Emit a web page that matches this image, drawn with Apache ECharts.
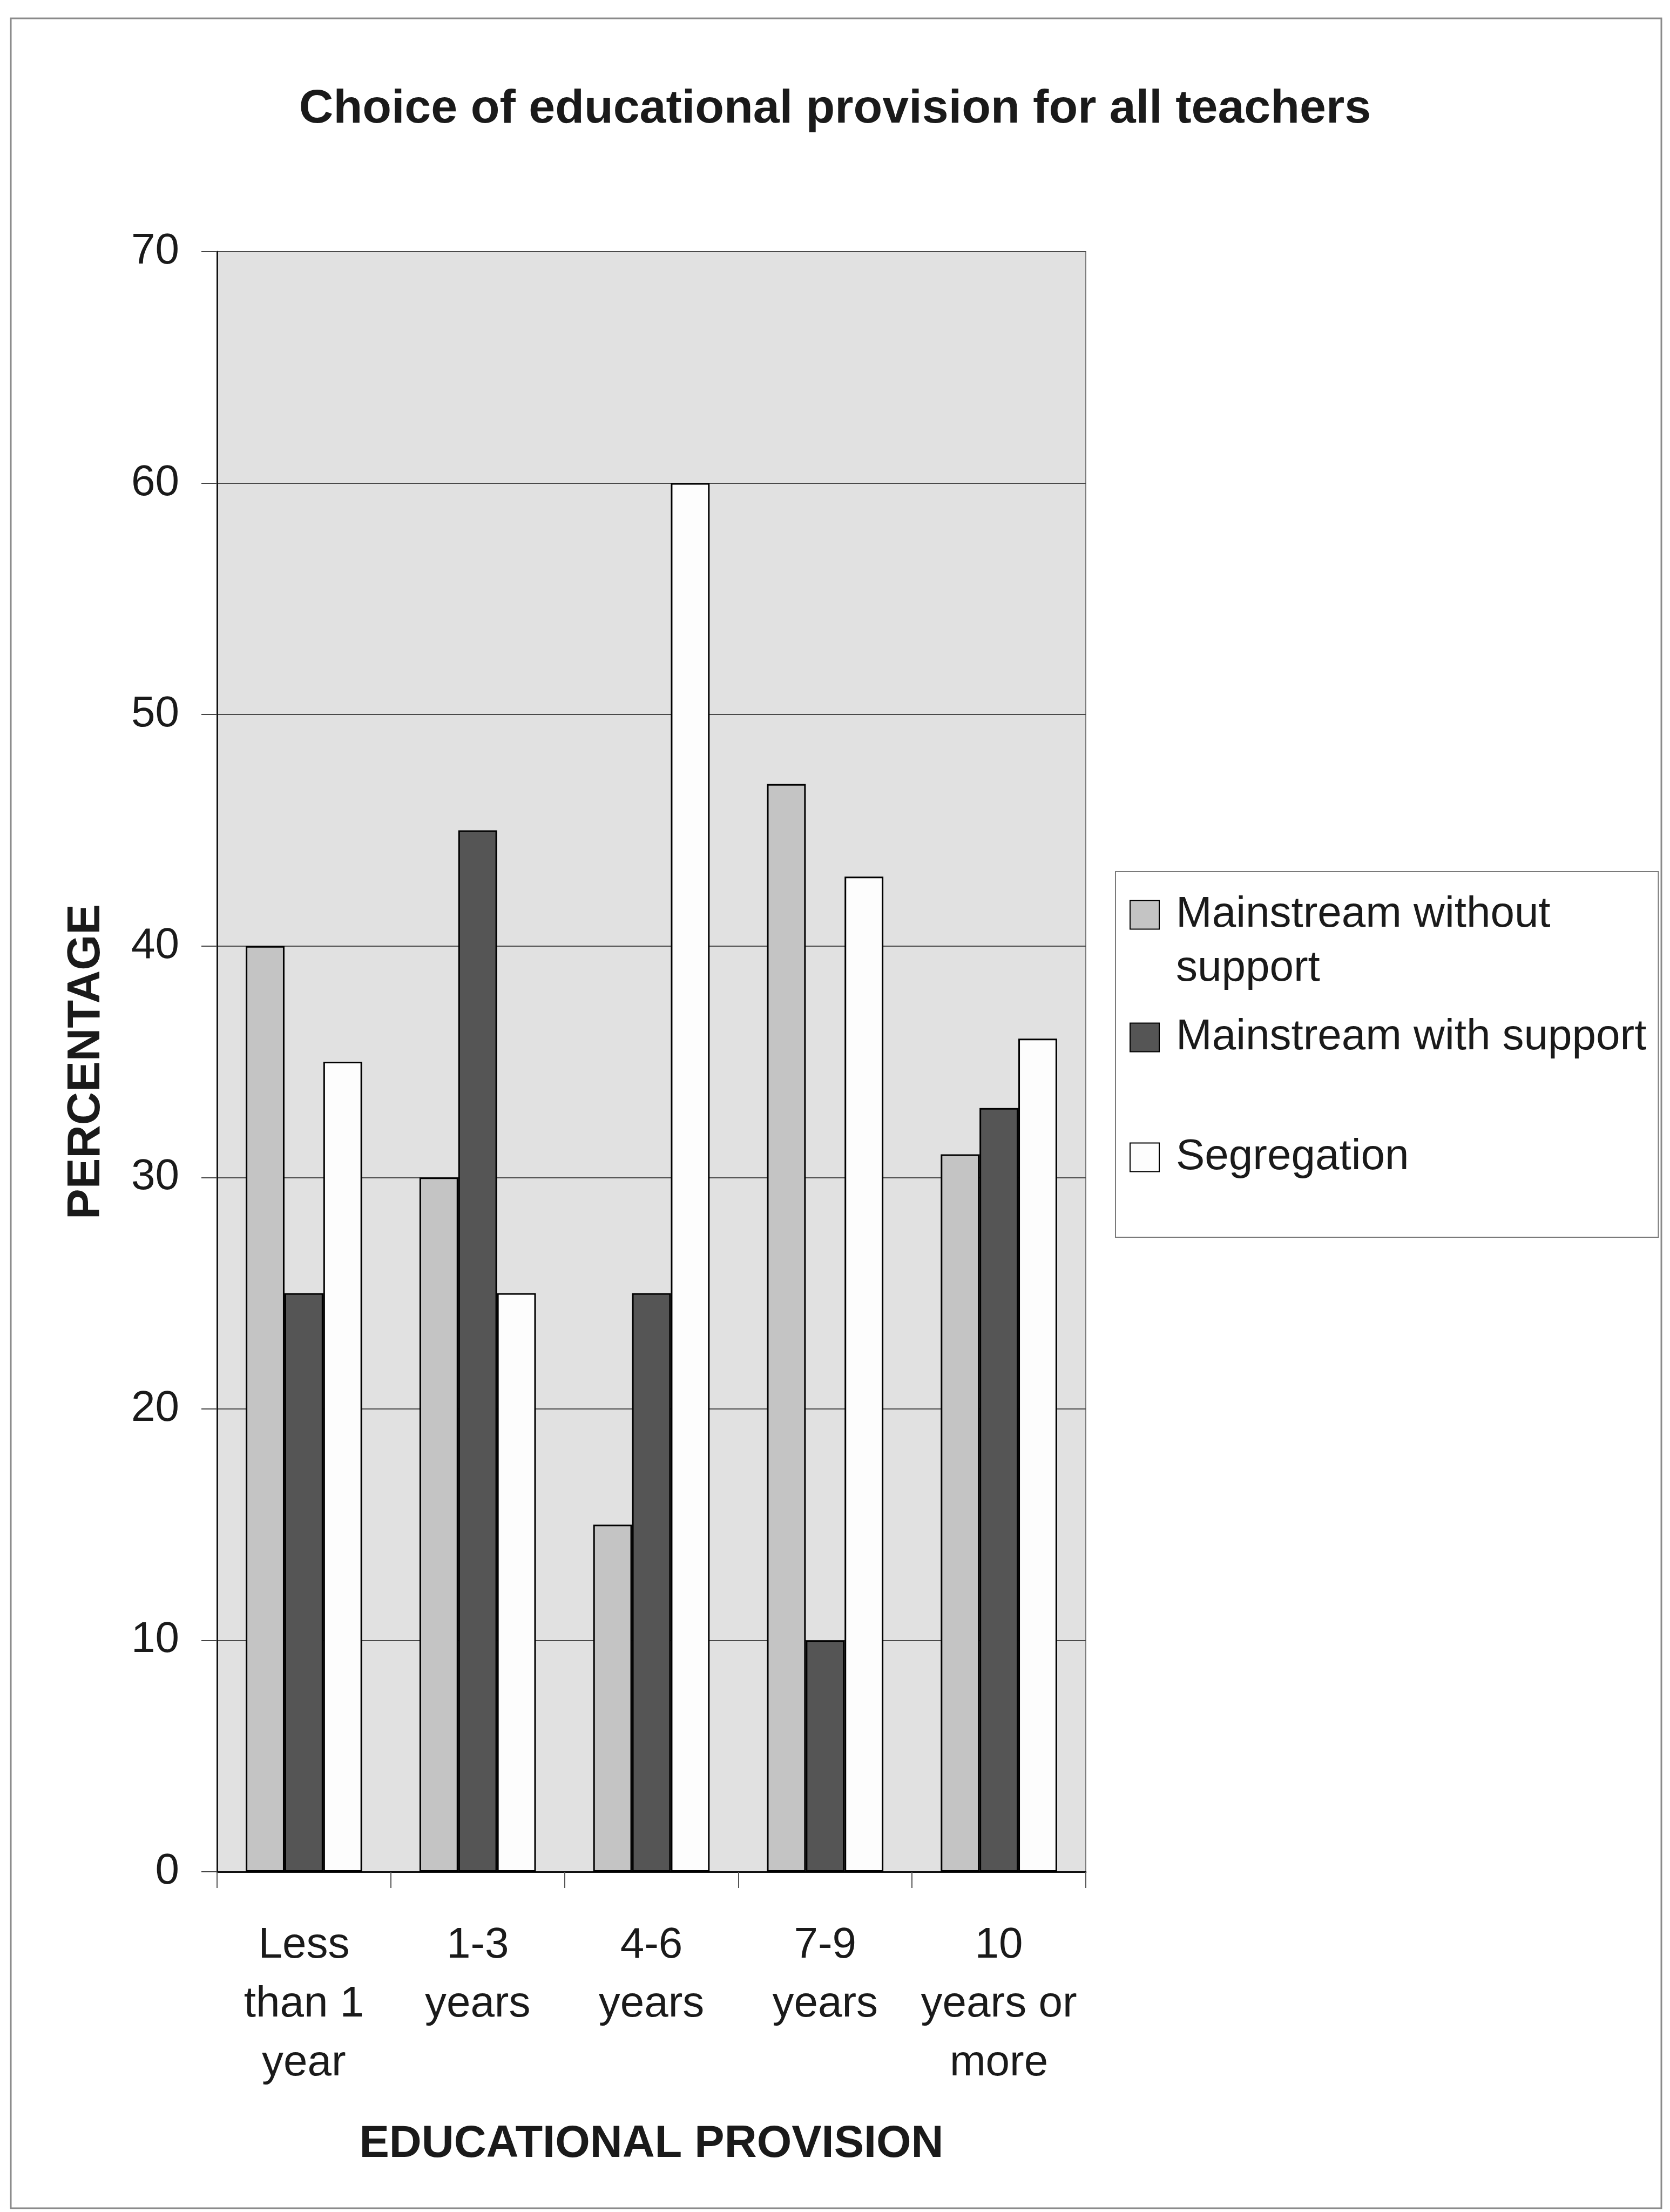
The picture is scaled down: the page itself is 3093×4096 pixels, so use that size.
<!DOCTYPE html>
<html>
<head>
<meta charset="utf-8">
<script src="https://cdn.jsdelivr.net/npm/echarts@6/dist/echarts.min.js"></script>
<style>
  html, body { margin: 0; padding: 0; background: #ffffff; }
  #chart { width: 3093px; height: 4096px; }
</style>
</head>
<body>
<div id="chart"></div>
<script>
const titleText = 'Choice of educational provision for all teachers';
const categories = ['Less\nthan 1\nyear', '1-3\nyears', '4-6\nyears', '7-9\nyears', '10\nyears or\nmore'];
const seriesNames = ['Mainstream without support', 'Mainstream with support', 'Segregation'];
const withoutSupport = [40, 30, 15, 47, 31];
const withSupport = [25, 45, 25, 10, 33];
const segregation = [35, 25, 60, 43, 36];
const yTicks = { min: 0, max: 70, interval: 10 };
const xAxisTitle = 'EDUCATIONAL PROVISION';
const yAxisTitle = 'PERCENTAGE';

const FONT = '"Liberation Sans", Arial, sans-serif';
const TEXT = '#1a1a1a';
const fills = ['#c4c4c4', '#555555', '#fdfdfd'];

const chart = echarts.init(document.getElementById('chart'), null, { renderer: 'canvas' });

function legendBase(name, top, left, extraText) {
  return {
    data: [name],
    orient: 'vertical',
    left: left,
    top: top,
    padding: 0,
    itemWidth: 54,
    itemHeight: 53,
    icon: 'rect',
    selectedMode: false,
    textStyle: Object.assign({ fontFamily: FONT, fontSize: 80, lineHeight: 100, color: TEXT }, extraText)
  };
}

// first item: a leading empty line keeps the icon level with the first text line
const legA = legendBase(seriesNames[0], 1544, 2092, { padding: [0, 0, 0, 26] });
legA.formatter = function () { return '\nMainstream without\nsupport'; };
const legB = legendBase(seriesNames[1], 1871, 2092, { padding: [0, 0, 0, 26] });
const legC = legendBase(seriesNames[2], 1614, 2066, { padding: [0, 0, 0, 26] });
legC.padding = [479, 462, 98, 26];
legC.borderColor = '#7a7a7a';
legC.borderWidth = 2;

const values = [withoutSupport, withSupport, segregation];

const option = {
  backgroundColor: '#ffffff',
  animation: false,
  title: {
    text: titleText,
    left: 'center',
    top: 154,
    textStyle: { fontFamily: FONT, fontSize: 88, fontWeight: 'bold', color: TEXT }
  },
  legend: [legA, legB, legC],
  grid: {
    left: 402,
    right: 1082,
    top: 466,
    bottom: 630,
    show: true,
    backgroundColor: '#e1e1e1',
    borderColor: '#7a7a7a',
    borderWidth: 2,
    containLabel: false
  },
  xAxis: {
    type: 'category',
    data: categories,
    name: xAxisTitle,
    nameLocation: 'middle',
    nameGap: 464,
    nameTextStyle: { fontFamily: FONT, fontSize: 83, fontWeight: 'bold', color: TEXT },
    axisLine: { show: true, lineStyle: { color: '#111', width: 3 } },
    axisTick: { show: true, length: 30, alignWithLabel: false, lineStyle: { color: '#555', width: 2 } },
    axisLabel: {
      interval: 0,
      margin: 82,
      fontFamily: FONT,
      fontSize: 80,
      lineHeight: 109,
      color: TEXT
    },
    splitLine: { show: false }
  },
  yAxis: {
    type: 'value',
    min: yTicks.min,
    max: yTicks.max,
    interval: yTicks.interval,
    name: yAxisTitle,
    nameLocation: 'middle',
    nameRotate: 90,
    nameGap: 199,
    nameTextStyle: { fontFamily: FONT, fontSize: 85, fontWeight: 'bold', color: TEXT },
    axisLine: { show: true, lineStyle: { color: '#111', width: 3 } },
    axisTick: { show: true, length: 29, lineStyle: { color: '#444', width: 2 } },
    axisLabel: { margin: 70, fontFamily: FONT, fontSize: 80, color: TEXT },
    splitLine: { show: true, lineStyle: { color: '#4a4a4a', width: 2 } }
  },
  series: seriesNames.map(function (name, i) {
    return {
      name: name,
      type: 'bar',
      data: values[i],
      barGap: '0%',
      barCategoryGap: '33%',
      itemStyle: { color: fills[i], borderColor: '#000', borderWidth: 3 }
    };
  }),
  graphic: [{
    type: 'rect',
    silent: true,
    z: -10,
    shape: { x: 20, y: 34, width: 3057, height: 4055 },
    style: { fill: 'none', stroke: '#8a8a8a', lineWidth: 3 }
  }]
};

chart.setOption(option);
</script>
</body>
</html>
